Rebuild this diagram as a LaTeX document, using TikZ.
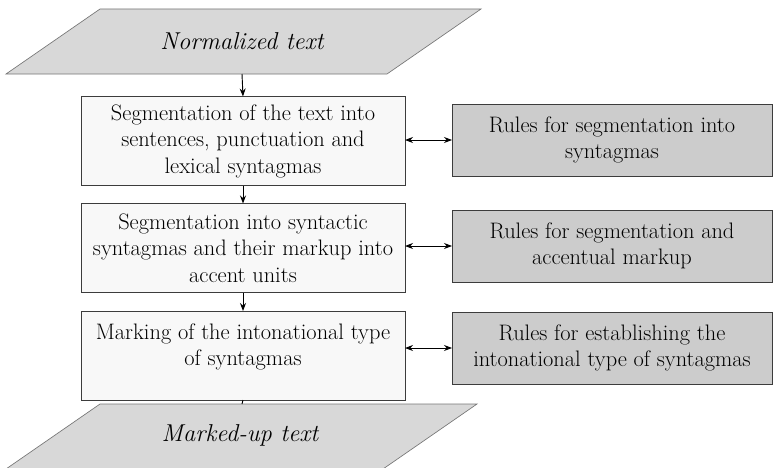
\documentclass[tikz,border=0pt]{standalone}
\usetikzlibrary{arrows.meta}
\definecolor{parafill}{HTML}{D8D8D8}
\definecolor{rulefill}{HTML}{CCCCCC}
\definecolor{stepfill}{HTML}{F8F8F8}
\definecolor{edgecol}{HTML}{3C3C3C}
\begin{document}
\begin{tikzpicture}[x=0.75pt,y=-0.75pt,
  every node/.style={inner sep=0pt, outer sep=0pt},
  boxfont/.style={font=\fontsize{16.8}{19.9}\selectfont},
  stepbox/.style={boxfont, draw=edgecol, line width=0.6pt, fill=stepfill,
    minimum width=243pt, minimum height=66.75pt, align=center},
  rulebox/.style={boxfont, draw=edgecol, line width=0.6pt, fill=rulefill,
    minimum width=240pt, minimum height=54pt, align=center},
  para/.style={draw=edgecol!70, line width=0.5pt, fill=parafill},
  paratext/.style={font=\fontsize{18.3}{20}\selectfont\itshape},
  flow/.style={line width=0.7pt, -{Stealth[length=6pt,width=4.5pt]}},
  link/.style={line width=0.7pt, {Stealth[length=6pt,width=4.5pt]}-{Stealth[length=6pt,width=4.5pt]}}]
  \clip (0,0) rectangle (773,467);

  % input and output data (parallelograms)
  \filldraw[para] (6,74) -- (100,9) -- (481,9) -- (387,74) -- cycle;
  \node[paratext] (norm) at (242,41.5) {Normalized text};
  \coordinate (normout) at (242,74);
  \filldraw[para] (100,404) -- (477,404) -- (383,469) -- (6,469) -- cycle;
  \node[paratext] (marked) at (240,435) {Marked-up text};
  \coordinate (markedin) at (242,404);

  % processing steps
  \node[stepbox] (s1) at (243,141) {Segmentation of the text into\\sentences, punctuation and\\lexical syntagmas};
  \node[stepbox] (s2) at (243,248) {Segmentation into syntactic\\syntagmas and their markup into\\accent units};
  \node[stepbox] (s3) at (243,355.5) {};
  \node[boxfont, align=center] (s3text) at (243,347) {Marking of the intonational type\\of syntagmas};

  % rule sets
  \node[rulebox] (r1) at (612,140) {Rules for segmentation into\\syntagmas};
  \node[rulebox] (r2) at (612,246) {Rules for segmentation and\\accentual markup};
  \node[rulebox] (r3) at (612,348) {Rules for establishing the\\intonational type of syntagmas};

  % flow between stages
  \draw[flow] (normout) -- (s1.north);
  \draw[flow] (s1.south) -- (s2.north);
  \draw[flow] (s2.south) -- (s3.north);
  \draw[line width=0.7pt] (s3.south) -- (markedin);

  % links to the rule sets
  \draw[link] (r1.west -| s1.east) -- (r1.west);
  \draw[link] (r2.west -| s2.east) -- (r2.west);
  \draw[link] (r3.west -| s3.east) -- (r3.west);
\end{tikzpicture}
\end{document}
